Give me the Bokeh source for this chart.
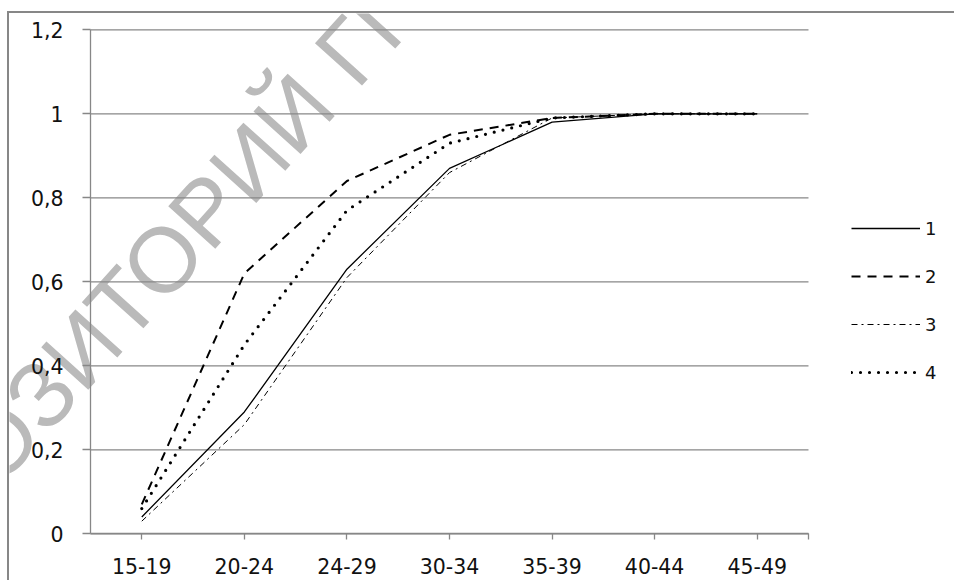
import math
from bokeh.plotting import figure
from bokeh.models import (Legend, LegendItem, Label, Range1d,
                          FixedTicker, CustomJSTickFormatter)
from bokeh.embed import file_html
from bokeh.resources import INLINE

# ---- data ----
categories = ["15-19", "20-24", "24-29", "30-34", "35-39", "40-44", "45-49"]
series_1 = [0.04, 0.29, 0.63, 0.87, 0.98, 1.0, 1.0]
series_2 = [0.07, 0.62, 0.84, 0.95, 0.99, 1.0, 1.0]
series_3 = [0.03, 0.26, 0.61, 0.86, 0.99, 1.0, 1.0]
series_4 = [0.06, 0.45, 0.77, 0.93, 0.99, 1.0, 1.0]
legend_labels = ["1", "2", "3", "4"]
y_ticks = [0, 0.2, 0.4, 0.6, 0.8, 1.0, 1.2]
y_tick_labels = ["0", "0,2", "0,4", "0,6", "0,8", "1", "1,2"]
watermark_text = "РЕПОЗИТОРИЙ ГГУ"

# category positions on a numeric axis (centre of each category slot)
n = len(categories)
x_pos = [i + 0.5 for i in range(n)]
x_ticks = x_pos + [n]
x_tick_labels = categories + [""]

GRID = "#878787"
FONT = "DejaVu Sans"

p = figure(width=947, height=569, x_range=Range1d(-0.7897, 8.443),
           y_range=Range1d(-0.116, 1.2388), output_backend="svg",
           toolbar_location=None, min_border=0)
p.margin = (11, 0, 0, 7)
p.styles = {"border-left": "2px solid #878787", "border-top": "2px solid #878787"}
p.outline_line_color = None
p.background_fill_color = "white"
p.border_fill_color = "white"
p.xgrid.visible = False
p.ygrid.visible = False

# watermark
wm = Label(x=0.517, y=0.603, text=watermark_text, angle=math.radians(48),
           text_align="center", text_baseline="middle", text_font="Liberation Sans",
           text_font_size="92px", text_color="#bababa", level="image")
p.add_layout(wm)

# horizontal grid lines at the y ticks, across the category span
p.segment(x0=0, x1=n, y0=y_ticks, y1=y_ticks, line_color=GRID, line_width=1.3)

# axes
fmt_code = """
let best = 0, d = 1e9;
for (let i = 0; i < tvals.length; i++) { const e = Math.abs(tvals[i] - tick); if (e < d) { d = e; best = i; } }
return tlabels[best];
"""
p.yaxis.ticker = FixedTicker(ticks=y_ticks)
p.yaxis.formatter = CustomJSTickFormatter(args=dict(tvals=y_ticks, tlabels=y_tick_labels), code=fmt_code)
p.xaxis.ticker = FixedTicker(ticks=x_ticks)
p.xaxis.formatter = CustomJSTickFormatter(args=dict(tvals=x_ticks, tlabels=x_tick_labels), code=fmt_code)
p.xaxis.fixed_location = 0
p.yaxis.fixed_location = 0
p.xaxis.bounds = (0, n)
p.yaxis.bounds = (0, 1.2)
for ax in (p.xaxis[0], p.yaxis[0]):
    ax.axis_line_color = GRID
    ax.axis_line_width = 1.3
    ax.major_tick_line_color = GRID
    ax.major_tick_line_width = 1.3
    ax.minor_tick_line_color = None
    ax.major_tick_in = 0
    ax.major_label_text_font = FONT
    ax.major_label_text_font_size = "20.5px"
    ax.major_label_text_color = "#111111"
p.yaxis.major_tick_out = 8
p.yaxis.major_label_standoff = 19
p.xaxis.major_tick_out = 6
p.xaxis.major_label_standoff = 18

# series
r1 = p.line(x_pos, series_1, line_color="black", line_width=1.3)
r2 = p.line(x_pos, series_2, line_color="black", line_width=2, line_dash="9 7")
r3 = p.line(x_pos, series_3, line_color="black", line_width=1, line_dash="6 4 2 4")
r4 = p.line(x_pos, series_4, line_color="black", line_width=3.2, line_dash="0 9",
            line_cap="round")

legend = Legend(items=[LegendItem(label=l, renderers=[r]) for l, r in
                       zip(legend_labels, [r1, r2, r3, r4])],
                location=(842, 199), orientation="vertical",
                glyph_width=69, glyph_height=22, label_height=22, label_standoff=5,
                spacing=26, padding=0, margin=0,
                border_line_color=None, background_fill_alpha=0,
                label_text_font=FONT, label_text_font_size="18px",
                label_text_color="#111111")
p.add_layout(legend, "center")

open("out.html", "w").write(file_html(p, INLINE))
